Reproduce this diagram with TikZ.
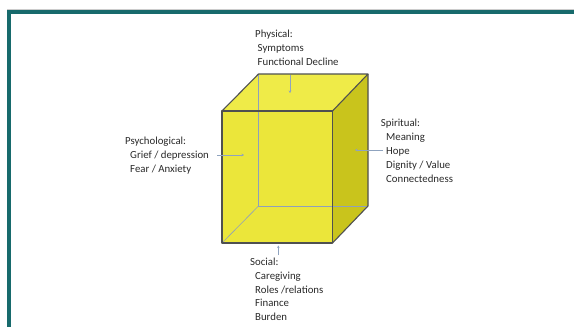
\documentclass[tikz,border=0pt]{standalone}
\usepackage{fontspec}
\setmainfont{Carlito}
\usetikzlibrary{arrows.meta}
\definecolor{frameteal}{HTML}{176A6C}
\definecolor{edgegray}{HTML}{4F5050}
\definecolor{hidden}{HTML}{8FA0BA}
\definecolor{arrowc}{HTML}{8FA3BF}
\definecolor{topy}{HTML}{EFEB48}
\definecolor{fronty}{HTML}{EBE63A}
\definecolor{sidey}{HTML}{C9C41C}
\definecolor{txt}{HTML}{2A2A2A}
\tikzset{
  lbl/.style={anchor=base west, inner sep=0pt, text=txt, font=\fontsize{10.8}{13.8}\selectfont},
  arr/.style={draw=arrowc, line width=0.6pt, -{Stealth[length=2.5pt,width=2.5pt]}},
  hid/.style={draw=hidden, line width=0.6pt},
  cubeedge/.style={draw=edgegray, line width=1.1pt, line join=round},
}
\begin{document}
\begin{tikzpicture}[x=1pt,y=-1pt]
\useasboundingbox (0,0) rectangle (574,327);
\fill[white] (0,0) rectangle (574,327);
% frame
\draw[gray!40, line width=0.6pt] (7,9.3) -- (574,9.3);
\fill[frameteal] (7,10) rectangle (574,14);
\fill[frameteal] (7,10) rectangle (10.5,327);
% cube corners
\coordinate (A) at (222,111);
\coordinate (B) at (332.5,111);
\coordinate (C) at (332.5,243);
\coordinate (D) at (222,243);
\coordinate (E) at (258.5,74);
\coordinate (F) at (368,74);
\coordinate (G) at (368,206);
\coordinate (H) at (258.5,206);
% faces
\fill[topy] (A) -- (E) -- (F) -- (B) -- cycle;
\fill[sidey] (B) -- (F) -- (G) -- (C) -- cycle;
\fill[fronty] (A) -- (B) -- (C) -- (D) -- cycle;
% hidden edges
\draw[hid] (E) -- (H) -- (G);
\draw[hid] (H) -- (D);
% outline
\draw[cubeedge] (A) -- (B) -- (C) -- (D) -- cycle;
\draw[cubeedge] (A) -- (E) -- (F) -- (B);
\draw[cubeedge] (F) -- (G) -- (C);
% labels
\node[lbl] (phys0) at (255,37.5) {Physical:};
\node[lbl] (phys1) at (257.5,51.3) {Symptoms};
\node[lbl] (phys2) at (257.5,65.1) {Functional Decline};
\node[lbl] (psy0) at (125,144) {Psychological:};
\node[lbl] (psy1) at (130,158) {Grief / depression};
\node[lbl] (psy2) at (130,172.3) {Fear / Anxiety};
\node[lbl] (spi0) at (380.7,126.5) {Spiritual:};
\node[lbl] (spi1) at (386,140) {Meaning};
\node[lbl] (spi2) at (386,154) {Hope};
\node[lbl] (spi3) at (386,168) {Dignity / Value};
\node[lbl] (spi4) at (386,182) {Connectedness};
\node[lbl] (soc0) at (250,265.5) {Social:};
\node[lbl] (soc1) at (255,279.3) {Caregiving};
\node[lbl] (soc2) at (255,293.1) {Roles /relations};
\node[lbl] (soc3) at (255,306.7) {Finance};
\node[lbl] (soc4) at (255,320.3) {Burden};
% connectors
\coordinate (physS) at (290,75);
\coordinate (physT) at (290,93);
\coordinate (psyS) at (217,155);
\coordinate (psyT) at (244,155);
\coordinate (spiS) at (383,150);
\coordinate (spiT) at (355,150);
\coordinate (socS) at (278.3,255);
\coordinate (socT) at (278.3,245.5);
\draw[arr] (physS) -- (physT);
\draw[arr] (psyS) -- (psyT);
\draw[arr] (spiS) -- (spiT);
\draw[arr] (socS) -- (socT);
\end{tikzpicture}
\end{document}
